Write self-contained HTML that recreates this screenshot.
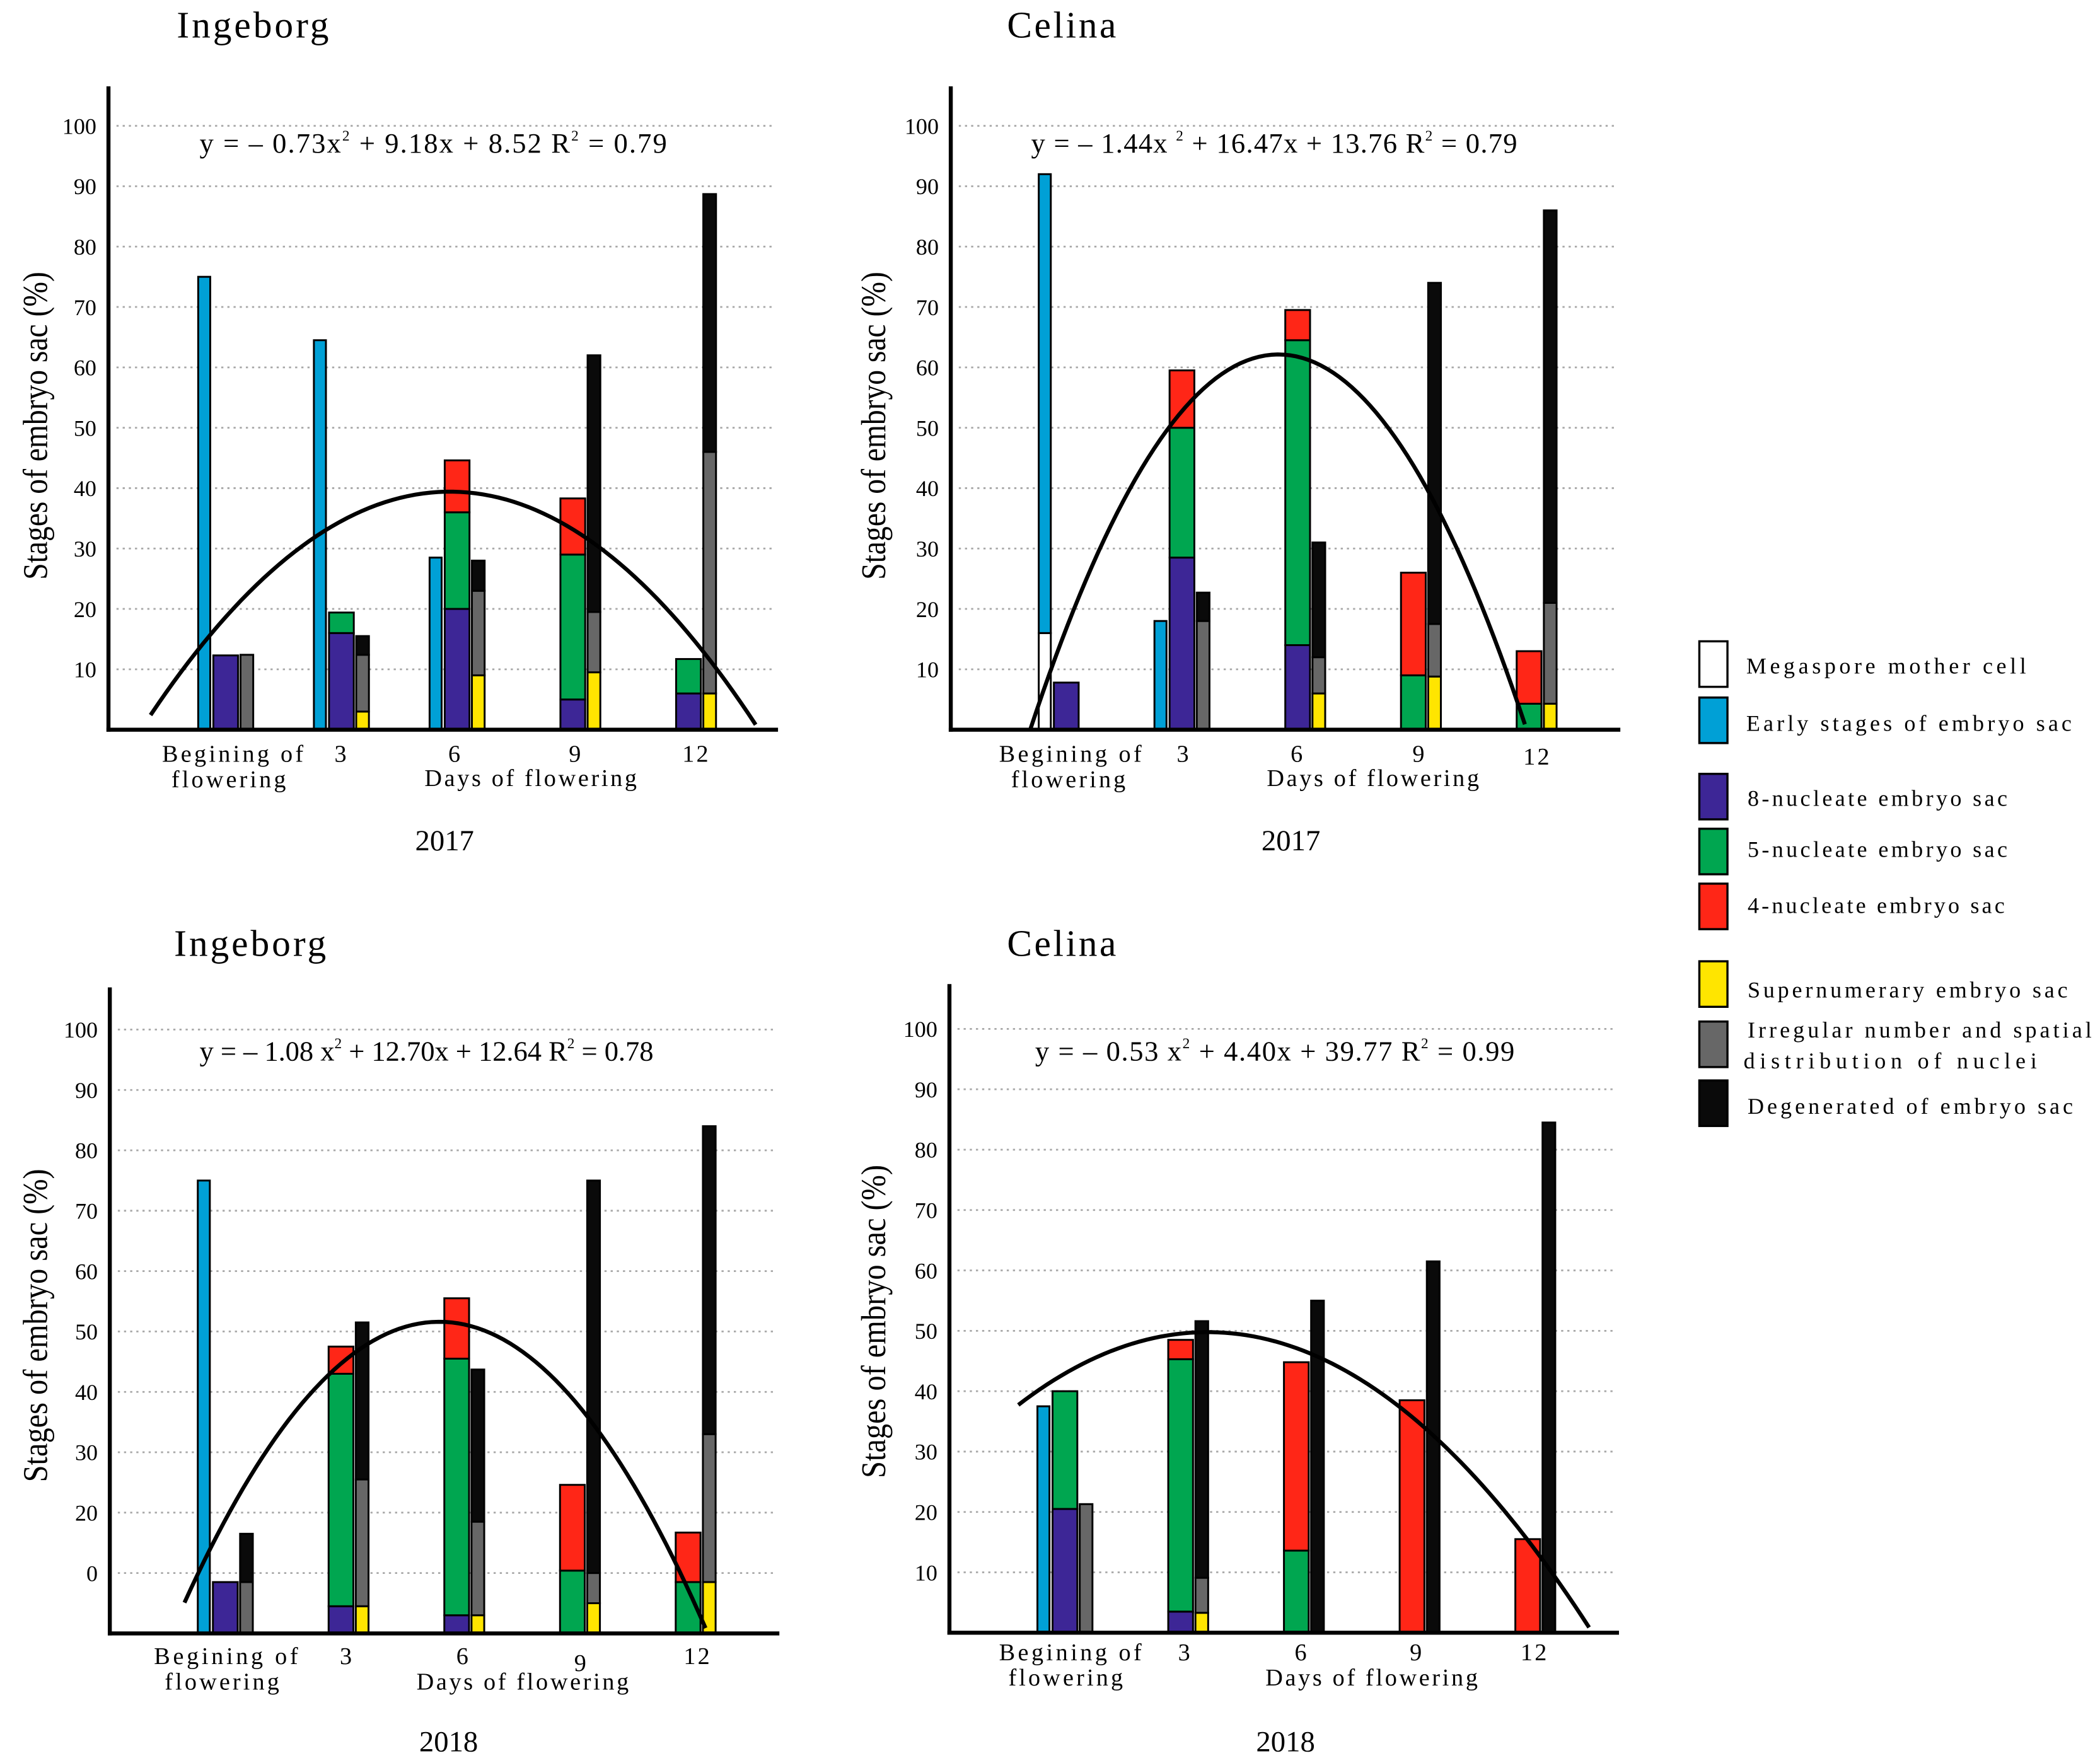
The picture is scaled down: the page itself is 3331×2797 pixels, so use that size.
<!DOCTYPE html>
<html>
<head>
<meta charset="utf-8">
<style>
html,body{margin:0;padding:0;background:#fff;}
svg{display:block;}
text{font-family:"Liberation Serif",serif;fill:#000;}
</style>
</head>
<body>
<svg id="fig" width="3331" height="2797" viewBox="0 0 1568.2 1316.8" preserveAspectRatio="none" xmlns="http://www.w3.org/2000/svg">
<rect x="0" y="0" width="1568.2" height="1316.8" fill="#fff"/>

<!-- Titles -->
<text x="132" y="28" font-size="28" letter-spacing="1.5" textLength="115">Ingeborg</text>
<text x="752" y="28" font-size="28" letter-spacing="1.5" textLength="83">Celina</text>
<text x="130" y="714" font-size="28" letter-spacing="1.5" textLength="115">Ingeborg</text>
<text x="752" y="714" font-size="28" letter-spacing="1.5" textLength="83">Celina</text>

<!-- Equations -->
<text x="149" y="114" font-size="21" textLength="349">y = – 0.73x<tspan dy="-9" font-size="11">2</tspan><tspan dy="9"> + 9.18x + 8.52  R</tspan><tspan dy="-9" font-size="11">2</tspan><tspan dy="9"> = 0.79</tspan></text>
<text x="770" y="114" font-size="21" textLength="363">y = – 1.44x <tspan dy="-9" font-size="11">2</tspan><tspan dy="9"> + 16.47x + 13.76  R</tspan><tspan dy="-9" font-size="11">2</tspan><tspan dy="9"> = 0.79</tspan></text>
<text x="149" y="792" font-size="21" textLength="339">y = – 1.08 x<tspan dy="-9" font-size="11">2</tspan><tspan dy="9">  + 12.70x + 12.64    R</tspan><tspan dy="-9" font-size="11">2</tspan><tspan dy="9"> = 0.78</tspan></text>
<text x="773" y="792" font-size="21" textLength="358">y = – 0.53 x<tspan dy="-9" font-size="11">2</tspan><tspan dy="9">  + 4.40x + 39.77   R</tspan><tspan dy="-9" font-size="11">2</tspan><tspan dy="9"> = 0.99</tspan></text>

<!-- Y axis titles -->
<text transform="translate(35,318) rotate(-90)" text-anchor="middle" font-size="26" textLength="230" lengthAdjust="spacingAndGlyphs">Stages of embryo sac (%)</text>
<text transform="translate(661,318) rotate(-90)" text-anchor="middle" font-size="26" textLength="230" lengthAdjust="spacingAndGlyphs">Stages of embryo sac (%)</text>
<text transform="translate(35,990) rotate(-90)" text-anchor="middle" font-size="26" textLength="234" lengthAdjust="spacingAndGlyphs">Stages of embryo sac (%)</text>
<text transform="translate(661,987) rotate(-90)" text-anchor="middle" font-size="26" textLength="234" lengthAdjust="spacingAndGlyphs">Stages of embryo sac (%)</text>

<!-- X labels TL -->
<g font-size="18" letter-spacing="1.5">
<text x="121" y="569" textLength="107">Begining of</text>
<text x="128" y="588" textLength="87">flowering</text>
<text x="255" y="569" text-anchor="middle">3</text>
<text x="340" y="569" text-anchor="middle">6</text>
<text x="430" y="569" text-anchor="middle">9</text>
<text x="520" y="569" text-anchor="middle">12</text>
<text x="317" y="587" textLength="160">Days of flowering</text>
</g>
<text x="332" y="635" font-size="22" text-anchor="middle">2017</text>

<!-- X labels TR -->
<g font-size="18" letter-spacing="1.5">
<text x="746" y="569" textLength="108">Begining of</text>
<text x="755" y="588" textLength="87">flowering</text>
<text x="884" y="569" text-anchor="middle">3</text>
<text x="969" y="569" text-anchor="middle">6</text>
<text x="1060" y="569" text-anchor="middle">9</text>
<text x="1148" y="571" text-anchor="middle">12</text>
<text x="946" y="587" textLength="160">Days of flowering</text>
</g>
<text x="964" y="635" font-size="22" text-anchor="middle">2017</text>

<!-- X labels BL -->
<g font-size="18" letter-spacing="1.5">
<text x="115" y="1243" textLength="109">Begining of</text>
<text x="123" y="1262" textLength="87">flowering</text>
<text x="259" y="1243" text-anchor="middle">3</text>
<text x="346" y="1243" text-anchor="middle">6</text>
<text x="434" y="1248" text-anchor="middle">9</text>
<text x="521" y="1243" text-anchor="middle">12</text>
<text x="311" y="1262" textLength="160">Days of flowering</text>
</g>
<text x="335" y="1308" font-size="22" text-anchor="middle">2018</text>

<!-- X labels BR -->
<g font-size="18" letter-spacing="1.5">
<text x="746" y="1240" textLength="108">Begining of</text>
<text x="753" y="1259" textLength="87">flowering</text>
<text x="885" y="1240" text-anchor="middle">3</text>
<text x="972" y="1240" text-anchor="middle">6</text>
<text x="1058" y="1240" text-anchor="middle">9</text>
<text x="1146" y="1240" text-anchor="middle">12</text>
<text x="945" y="1259" textLength="160">Days of flowering</text>
</g>
<text x="960" y="1308" font-size="22" text-anchor="middle">2018</text>

<!-- Legend -->
<g stroke="#000" stroke-width="1.6">
<rect x="1269" y="479" width="21" height="34" fill="#ffffff"/>
<rect x="1269" y="521" width="21" height="34" fill="#00a0d6"/>
<rect x="1269" y="578" width="21" height="34" fill="#3d2696"/>
<rect x="1269" y="619" width="21" height="34" fill="#00a650"/>
<rect x="1269" y="660" width="21" height="34" fill="#ff2617"/>
<rect x="1269" y="718" width="21" height="34" fill="#ffe500"/>
<rect x="1269" y="763" width="21" height="34" fill="#676767"/>
<rect x="1269" y="807" width="21" height="34" fill="#0a0a0a"/>
</g>
<g font-size="17">
<text x="1304" y="503" textLength="209">Megaspore mother cell</text>
<text x="1304" y="546" textLength="243">Early stages of embryo sac</text>
<text x="1305" y="602" textLength="194">8-nucleate embryo sac</text>
<text x="1305" y="640" textLength="194">5-nucleate embryo sac</text>
<text x="1305" y="682" textLength="192">4-nucleate embryo sac</text>
<text x="1305" y="745" textLength="239">Supernumerary embryo sac</text>
<text x="1305" y="775" textLength="257">Irregular number and spatial</text>
<text x="1302" y="798" textLength="219">distribution of nuclei</text>
<text x="1305" y="832" textLength="243">Degenerated of embryo sac</text>
</g>
<g id="charts"></g>
</svg>

<script>
// shared
const days = [0, 3, 6, 9, 12];
const tickValues = [10, 20, 30, 40, 50, 60, 70, 80, 90, 100];
const tickLabelsA = ["10", "20", "30", "40", "50", "60", "70", "80", "90", "100"];
const tickLabelsB = ["0", "20", "30", "40", "50", "60", "70", "80", "90", "100"];

// Ingeborg 2017
const tlMega = [0, 0, 0, 0, 0];
const tlEarly = [75, 64.5, 28.5, 0, 0];
const tl8n = [12.3, 16, 20, 5, 6];
const tl5n = [0, 3.4, 16, 24, 5.7];
const tl4n = [0, 0, 8.6, 9.3, 0];
const tlSup = [0, 3, 9, 9.5, 6];
const tlIrr = [12.4, 9.4, 14, 10, 40];
const tlDeg = [0, 3.1, 5, 42.5, 42.7];
const tlFit = [-0.614, 7.15, 18.6];
const tlFitRange = [-1.94, 13.75];

// Celina 2017
const trMega = [16, 0, 0, 0, 0];
const trEarly = [76, 18, 0, 0, 0];
const tr8n = [7.8, 28.5, 14, 0, 0];
const tr5n = [0, 21.5, 50.5, 9, 4.3];
const tr4n = [0, 9.5, 5, 17, 8.7];
const trSup = [0, 0, 6, 8.8, 4.3];
const trIrr = [0, 18, 6, 8.7, 16.7];
const trDeg = [0, 4.7, 19, 56.5, 65];
const trFit = [-1.5, 16.53, 16.6];
const trFitRange = [-0.92, 11.9];

// Ingeborg 2018
const blMega = [0, 0, 0, 0, 0];
const blEarly = [75, 0, 0, 0, 0];
const bl8n = [8.5, 4.5, 3, 0, 0];
const bl5n = [0, 38.5, 42.5, 10.4, 8.5];
const bl4n = [0, 4.5, 10, 14.2, 8.2];
const blSup = [0, 4.5, 3, 5, 8.5];
const blIrr = [8.5, 21, 15.5, 5, 24.5];
const blDeg = [8, 26, 25.2, 65, 51];
const blFit = [-1.065, 11.84, 18.7];
const blFitRange = [-1.05, 12.46];

// Celina 2018
const brMega = [0, 0, 0, 0, 0];
const brEarly = [37.5, 0, 0, 0, 0];
const br8n = [20.5, 3.5, 0, 0, 0];
const br5n = [19.5, 41.8, 13.6, 0, 0];
const br4n = [0, 3.2, 31.2, 38.5, 15.5];
const brSup = [0, 3.3, 0, 0, 0];
const brIrr = [21.3, 5.8, 0, 0, 0];
const brDeg = [0, 42.5, 55, 61.5, 84.5];
const brFit = [-0.5, 3.71, 42.9];
const brFitRange = [-1.2, 13.6];

const COL = {mega:"#ffffff", early:"#00a0d6", n8:"#3d2696", n5:"#00a650", n4:"#ff2617", sup:"#ffe500", irr:"#676767", deg:"#0a0a0a"};
const NS = "http://www.w3.org/2000/svg";
const root = document.getElementById("charts");

function mk(tag, attrs, parent) {
  const e = document.createElementNS(NS, tag);
  for (const k in attrs) e.setAttribute(k, attrs[k]);
  parent.appendChild(e);
  return e;
}

function drawPanel(id, geo, series, fit, fitRange, ticks) {
  const g = mk("g", {}, root);
  
  
  const yS = v => geo.base - 4.51 * v;
  const xS = d => geo.cx0 + 28.8 * d;

  // grid + ticks
  tickValues.forEach((tv, i) => {
    const ln = mk("line", {x1: geo.ax + 6, x2: geo.ax + 498, y1: yS(tv), y2: yS(tv), stroke: "#a8a8a8", "stroke-width": 1.3, "stroke-dasharray": "1.6 3"}, g);
    
    
    const t = mk("text", {x: geo.ax - 9, y: yS(tv) + 6, "text-anchor": "end", "font-size": 17}, g);
    
    
    t.textContent = ticks[i];
  });

  function seg(x, w, v0, v1, color, name) {
    if (v1 - v0 <= 0) return;
    const r = mk("rect", {x: x, y: yS(v1), width: w, height: yS(v0) - yS(v1), fill: color, stroke: "#000", "stroke-width": 1.4}, g);
    
    
  }

  days.forEach((d, i) => {
    const c = xS(d);
    // narrow bar: megaspore + early
    let v = 0;
    seg(c - 20.3, 9, v, v + series.mega[i], COL.mega, 'bar-megaspore'); v += series.mega[i];
    seg(c - 20.3, 9, v, v + series.early[i], COL.early, 'bar-early-stages'); v += series.early[i];
    // main stack
    v = 0;
    seg(c - 9, 18.5, v, v + series.n8[i], COL.n8, 'bar-8-nucleate'); v += series.n8[i];
    seg(c - 9, 18.5, v, v + series.n5[i], COL.n5, 'bar-5-nucleate'); v += series.n5[i];
    seg(c - 9, 18.5, v, v + series.n4[i], COL.n4, 'bar-4-nucleate'); v += series.n4[i];
    // side stack
    v = 0;
    seg(c + 11.3, 9.5, v, v + series.sup[i], COL.sup, 'bar-supernumerary'); v += series.sup[i];
    seg(c + 11.3, 9.5, v, v + series.irr[i], COL.irr, 'bar-irregular'); v += series.irr[i];
    seg(c + 11.3, 9.5, v, v + series.deg[i], COL.deg, 'bar-degenerated'); v += series.deg[i];
  });

  // axes
  const ya = mk("line", {x1: geo.ax, x2: geo.ax, y1: geo.top, y2: geo.base + 1.5, stroke: "#000", "stroke-width": 3}, g);
  
  
  const xa = mk("line", {x1: geo.ax - 1.5, x2: geo.ax + 500, y1: geo.base, y2: geo.base, stroke: "#000", "stroke-width": 3}, g);
  
  

  // fit curve
  let dstr = "";
  const n = 80;
  for (let k = 0; k <= n; k++) {
    const x = fitRange[0] + (fitRange[1] - fitRange[0]) * k / n;
    const y = fit[0] * x * x + fit[1] * x + fit[2];
    dstr += (k ? "L" : "M") + xS(x).toFixed(2) + " " + yS(y).toFixed(2);
  }
  const p = mk("path", {d: dstr, fill: "none", stroke: "#000", "stroke-width": 3}, g);
  
  
}

drawPanel("ingeborg-2017", {ax: 81, top: 64.5, base: 545, cx0: 168.3},
  {mega: tlMega, early: tlEarly, n8: tl8n, n5: tl5n, n4: tl4n, sup: tlSup, irr: tlIrr, deg: tlDeg}, tlFit, tlFitRange, tickLabelsA);
drawPanel("celina-2017", {ax: 710, top: 64.5, base: 545, cx0: 796},
  {mega: trMega, early: trEarly, n8: tr8n, n5: tr5n, n4: tr4n, sup: trSup, irr: trIrr, deg: trDeg}, trFit, trFitRange, tickLabelsA);
drawPanel("ingeborg-2018", {ax: 82, top: 737.5, base: 1220, cx0: 168},
  {mega: blMega, early: blEarly, n8: bl8n, n5: bl5n, n4: bl4n, sup: blSup, irr: blIrr, deg: blDeg}, blFit, blFitRange, tickLabelsB);
drawPanel("celina-2018", {ax: 709, top: 735, base: 1219.5, cx0: 795},
  {mega: brMega, early: brEarly, n8: br8n, n5: br5n, n4: br4n, sup: brSup, irr: brIrr, deg: brDeg}, brFit, brFitRange, tickLabelsA);
</script>
</body>
</html>
